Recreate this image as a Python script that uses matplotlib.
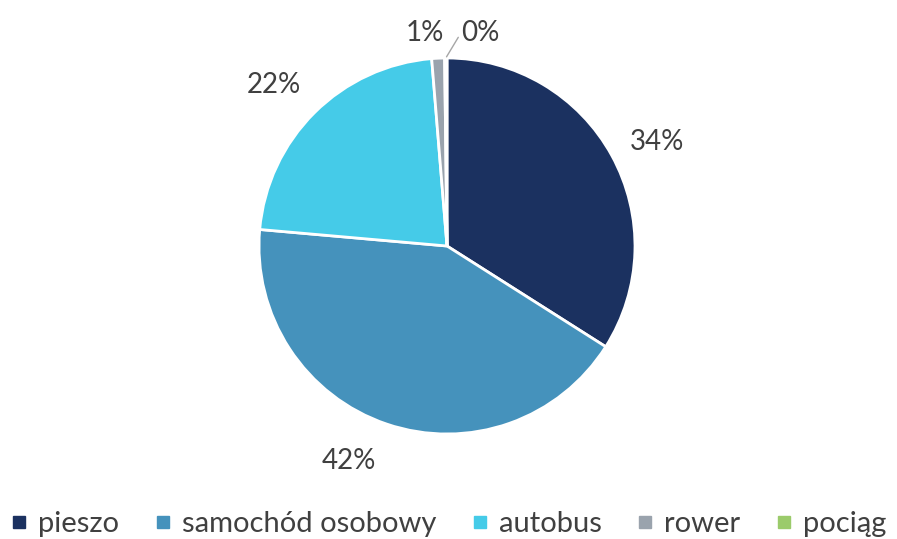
import matplotlib.pyplot as plt
import numpy as np
from matplotlib.lines import Line2D

labels = ['pieszo', 'samochód osobowy', 'autobus', 'rower', 'pociąg']
values = [34.0, 42.4, 22.3, 1.1, 0.2]
colors = ['#1b3160', '#4592bc', '#45cbe8', '#9aa3ad', '#9bcb6b']

plt.rcParams['font.family'] = ['Lato', 'DejaVu Sans']
text_color = '#404040'

fig = plt.figure(figsize=(8.97, 5.39), dpi=100)
ax = fig.add_axes([0, 0, 1, 1])

wedges, _ = ax.pie(values, colors=colors, startangle=90, counterclock=False,
                   wedgeprops=dict(edgecolor='white', linewidth=2))

# pie resets the limits, so set them afterwards (radius 1 = 188 px)
r_px = 188
cx, cy = 447, 246
ax.set_xlim(-cx / r_px, (897 - cx) / r_px)
ax.set_ylim(-(539 - cy) / r_px, cy / r_px)
ax.set_aspect('equal')
ax.axis('off')

# small nudges so the big labels sit where Excel put them
nudge = [(0.02, -0.05), (-0.12, 0.04), (-0.04, -0.03)]

for i, w in enumerate(wedges):
    ang = np.deg2rad((w.theta1 + w.theta2) / 2)
    pct = '%d%%' % round(values[i])
    if i < 3:
        d = 1.25
        ax.text(d * np.cos(ang) + nudge[i][0], d * np.sin(ang) + nudge[i][1], pct,
                ha='center', va='center', fontsize=20, color=text_color)
    elif i == 3:
        ax.text(-0.12, 1.135, pct, ha='center', va='center', fontsize=20, color=text_color)
    else:
        ax.text(0.175, 1.135, pct, ha='center', va='center', fontsize=20, color=text_color)
        ax.annotate('', xy=(np.cos(ang), np.sin(ang)), xytext=(0.06, 1.11),
                    arrowprops=dict(arrowstyle='-', color='#a6a6a6', lw=1,
                                    shrinkA=0, shrinkB=1))

handles = [Line2D([], [], marker='s', linestyle='', markersize=9,
                  markerfacecolor=c, markeredgecolor=c) for c in colors]
leg = fig.legend(handles, labels, loc='lower center', bbox_to_anchor=(0.5, -0.045),
                 ncol=5, frameon=False, fontsize=21, handlelength=0.6,
                 handletextpad=0.35, columnspacing=1.2)
for t in leg.get_texts():
    t.set_color(text_color)

fig.savefig('out.png', dpi=100)
